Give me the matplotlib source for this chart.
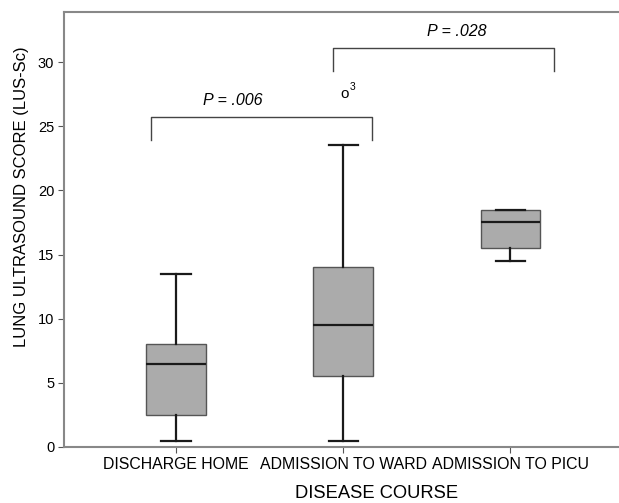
import matplotlib as mpl
mpl.use("Agg")
import matplotlib.pyplot as plt

plt.rcParams["font.family"] = ["Liberation Sans", "DejaVu Sans"]

# box statistics
groups = ["DISCHARGE HOME", "ADMISSION TO WARD", "ADMISSION TO PICU"]
whislo = [0.5, 0.5, 14.5]
q1 = [2.5, 5.5, 15.5]
med = [6.5, 9.5, 17.5]
q3 = [8.0, 14.0, 18.5]
whishi = [13.5, 23.5, 18.5]
fliers = [[], [27.5], []]
flier_ids = ["", "3", ""]

# significance brackets
brk_left = [0.85, 1.94]
brk_right = [2.17, 3.26]
brk_top = [25.75, 31.1]
brk_drop = [1.85, 1.8]
brk_text = ["P = .006", "P = .028"]
brk_text_x = [1.34, 2.68]

stats = []
for i in range(len(groups)):
    stats.append(dict(label=groups[i], whislo=whislo[i], q1=q1[i], med=med[i],
                      q3=q3[i], whishi=whishi[i], fliers=[]))

fig = plt.figure(figsize=(6.19, 5.03), dpi=100)
ax = fig.add_axes([64 / 619, 56 / 503, 1 - 64 / 619, (447 - 12) / 503])

ax.bxp(stats, positions=[1, 2, 3], widths=0.355, patch_artist=True,
       boxprops=dict(facecolor="#ababab", edgecolor="#555555", linewidth=1.0),
       medianprops=dict(color="#1a1a1a", linewidth=1.6),
       whiskerprops=dict(color="#1a1a1a", linewidth=1.6),
       capprops=dict(color="#1a1a1a", linewidth=1.6),
       capwidths=0.175)

# outlier shown as an open 'o' with its case number
for i, fl in enumerate(fliers):
    for v in fl:
        ax.text(i + 1.01, v, "o", ha="center", va="center", fontsize=11)
        ax.text(i + 1.055, v + 0.55, flier_ids[i], ha="center", va="center", fontsize=7.5)

for l, r, t, d, s, tx in zip(brk_left, brk_right, brk_top, brk_drop, brk_text, brk_text_x):
    ax.plot([l, l, r, r], [t - d, t, t, t - d], color="#444444", linewidth=1.0)
    ax.text(tx, t + 1.25, s, ha="center", va="center",
            fontsize=11.5, style="italic")

ax.set_xlim(0.33, 3.65)
ax.set_ylim(0, 33.9)
ax.set_yticks([0, 5, 10, 15, 20, 25, 30])
ax.set_xticks([1, 2, 3])
ax.set_xticklabels(groups, fontsize=11.4)
ax.tick_params(axis="y", labelsize=10.5)
ax.tick_params(color="#555555", length=4.5, pad=2.5)

for sp in ["left", "top", "bottom"]:
    ax.spines[sp].set_color("#888888")
    ax.spines[sp].set_linewidth(1.5)
ax.spines["right"].set_visible(False)

ax.set_xlabel("DISEASE COURSE", fontsize=13.2, va="center")
ax.xaxis.set_label_coords(0.564, -0.106)
ax.set_ylabel("LUNG ULTRASOUND SCORE (LUS-Sc)", fontsize=12, va="center")
ax.yaxis.set_label_coords(-0.0757, 0.576)

plt.savefig("out.png", dpi=100)
